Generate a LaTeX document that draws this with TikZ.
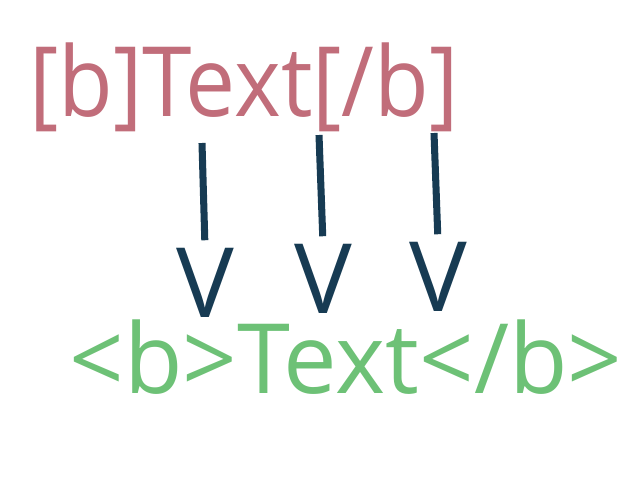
\documentclass[tikz,border=0pt]{standalone}
\usepackage{fontspec}
\setmainfont{Open Sans}
\definecolor{bbpink}{HTML}{C16D7A}
\definecolor{tagnavy}{HTML}{173B53}
\definecolor{htmlgreen}{HTML}{6DC176}
\usetikzlibrary{positioning}
\tikzstyle{tag}=[inner sep=0pt, font=\fontsize{69}{69}\selectfont]
\tikzstyle{head}=[tag, text=tagnavy, anchor=base]
\tikzstyle{link}=[tagnavy, line width=5pt, shorten >=0.18cm]

\begin{document}
\begin{tikzpicture}[x=0.025cm, y=-0.025cm]
  \useasboundingbox (0,0) rectangle (640,480);
  \node[tag, text=bbpink, anchor=base]    (bb)   at (244,116) {\scalebox{0.92}[1]{[b]Text[/b]}};
  \node[tag, text=htmlgreen, anchor=base] (html) at (346,393) {\scalebox{0.985}[1]{<b>Text</b>}};

  \node[head] (v1) at (205,317) {V};
  \node[head] (v2) at (323,313) {V};
  \node[head] (v3) at (438,311) {V};

  \coordinate (s1) at (202,143);
  \coordinate (s2) at (319,135);
  \coordinate (s3) at (434,133);

  \draw[link] (s1) -- (v1.north);
  \draw[link] (s2) -- (v2.north);
  \draw[link] (s3) -- (v3.north);
\end{tikzpicture}
\end{document}
